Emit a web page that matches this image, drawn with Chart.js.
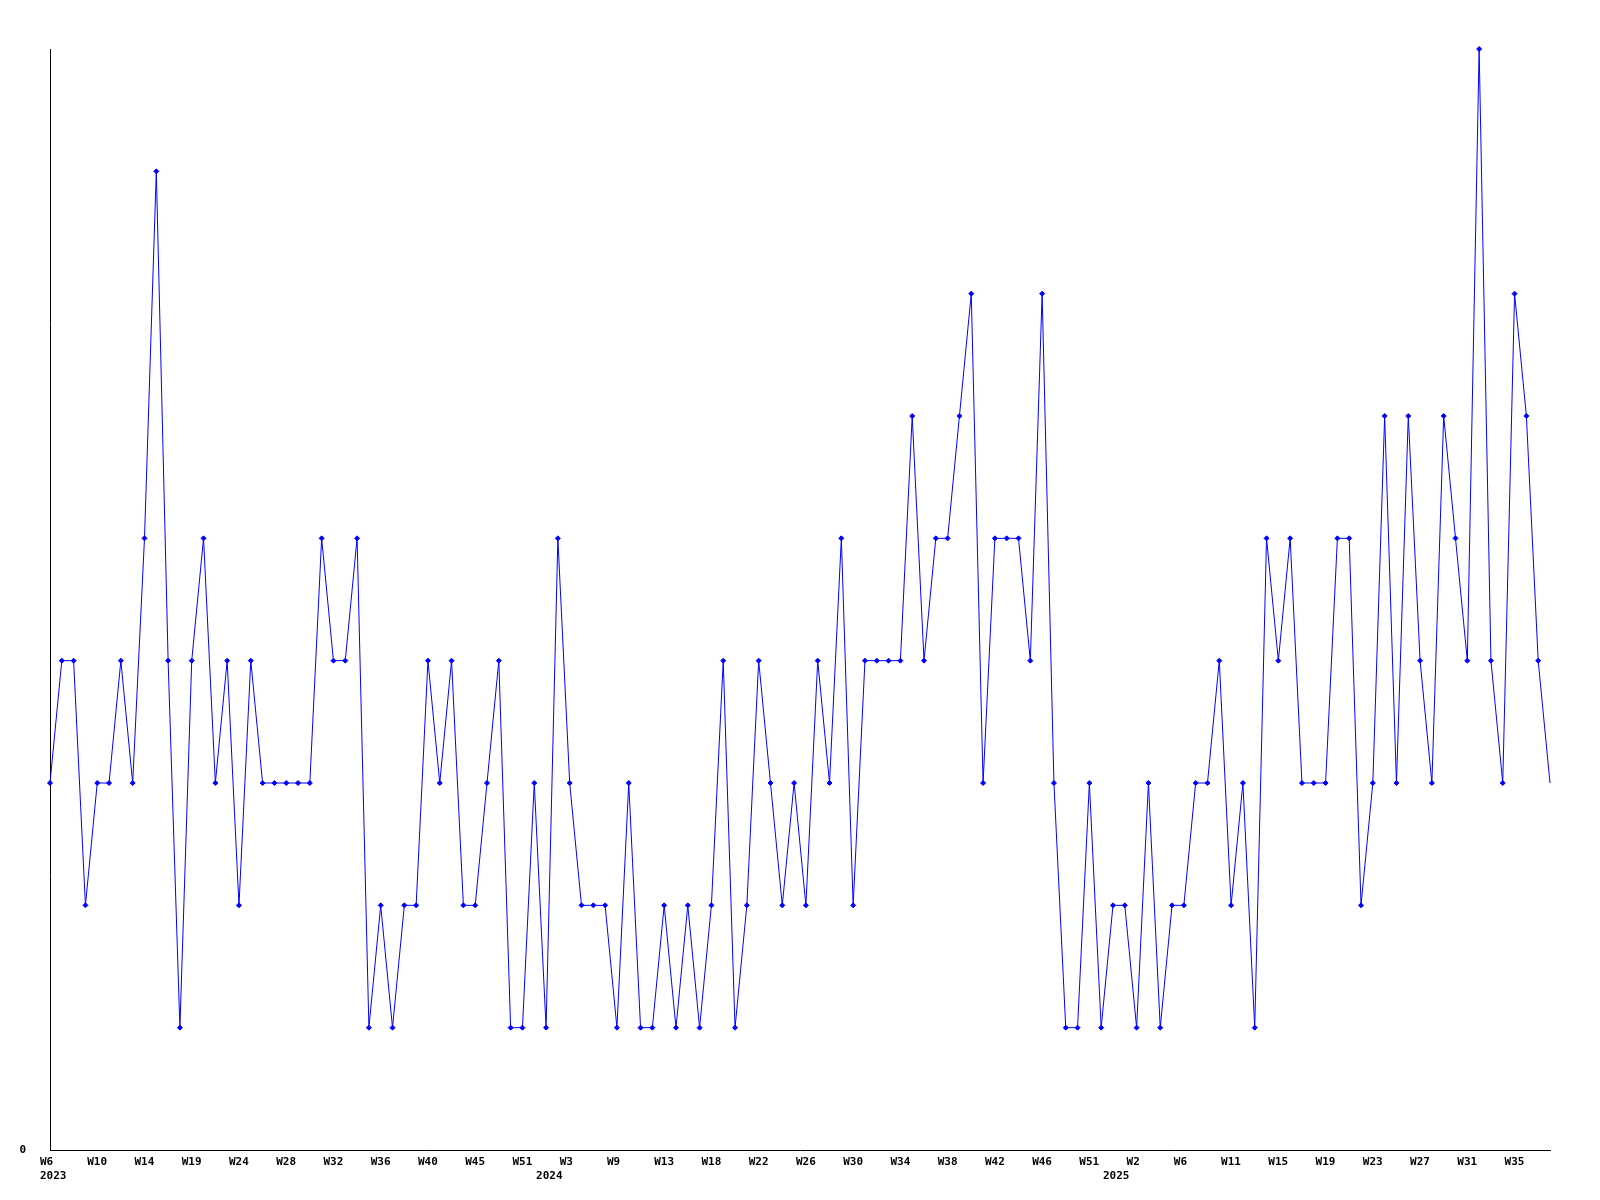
<!DOCTYPE html>
<html>
<head>
<meta charset="utf-8">
<style>
  html, body { margin: 0; padding: 0; background: #fff; }
  #wrap { width: 1600px; height: 1200px; }
</style>
<script src="https://cdn.jsdelivr.net/npm/chart.js@4.4.1/dist/chart.umd.min.js"></script>
</head>
<body>
<div id="wrap"><canvas id="myChart" width="1600" height="1200"></canvas></div>
<script>
// week numbers that have a value, per year (some weeks are missing)
const WEEKS_2023 = [6, 7, 8, 9, 10, 11, 12, 13, 14, 15, 16, 18, 19, 20, 21, 23, 24, 25, 26, 27, 28,
  29, 30, 31, 32, 33, 34, 35, 36, 37, 38, 39, 40, 41, 42, 44, 45, 47, 49, 50, 51, 52];
const WEEKS_2024 = [1, 2, 3, 5, 7, 8, 9, 10, 11, 12, 13, 14, 15, 17, 18, 19, 20, 21, 22, 23, 24, 25,
  26, 27, 28, 29, 30, 31, 32, 33, 34, 35, 36, 37, 38, 39, 40, 41, 42, 43, 44, 45, 46, 47, 48, 50, 51, 52];
const WEEKS_2025 = [0, 1, 2, 3, 4, 5, 6, 7, 8, 10, 11, 12, 13, 14, 15, 16, 17, 18, 19, 20, 21, 22,
  23, 24, 25, 26, 27, 28, 29, 30, 31, 32, 33, 34, 35, 36, 37, 38];

const COUNTS_2023 = [3, 4, 4, 2, 3, 3, 4, 3, 5, 8, 4, 1, 4, 5, 3, 4, 2, 4, 3, 3, 3,
  3, 3, 5, 4, 4, 5, 1, 2, 1, 2, 2, 4, 3, 4, 2, 2, 3, 4, 1, 1, 3];
const COUNTS_2024 = [1, 5, 3, 2, 2, 2, 1, 3, 1, 1, 2, 1, 2, 1, 2, 4, 1, 2, 4, 3, 2, 3, 2, 4,
  3, 5, 2, 4, 4, 4, 4, 6, 4, 5, 5, 6, 7, 3, 5, 5, 5, 4, 7, 3, 1, 1, 3, 1];
const COUNTS_2025 = [2, 2, 1, 3, 1, 2, 2, 3, 3, 4, 2, 3, 1, 5, 4, 5, 3, 3, 3, 5, 5, 2, 3, 6, 3,
  6, 4, 3, 6, 5, 4, 9, 4, 3, 7, 6, 4, 3];

const Y_MAX = 9;

const labels = [];
const yearAt = {};
[[2023, WEEKS_2023], [2024, WEEKS_2024], [2025, WEEKS_2025]].forEach(([year, weeks]) => {
  yearAt[labels.length] = String(year);
  weeks.forEach((w) => labels.push(`W${w}`));
});
const counts = COUNTS_2023.concat(COUNTS_2024, COUNTS_2025);

const FONT = { family: 'DejaVu Sans Mono', size: 11, weight: 'bold', lineHeight: '14px' };

const ctx = document.getElementById('myChart');

const myChart = new Chart(ctx, {
  type: 'line',
  data: {
    labels,
    datasets: [{
      data: counts,
      borderColor: '#0000FF',
      backgroundColor: '#0000FF',
      borderWidth: 1,
      tension: 0,
      pointStyle: 'rectRot',
      pointRadius: (c) => (c.dataIndex === counts.length - 1 ? 0 : 2.5),
      pointBorderWidth: 1,
      clip: false,
    }],
  },
  options: {
    responsive: false,
    animation: false,
    devicePixelRatio: 1,
    layout: {
      padding: { top: 49, right: 50, left: 0, bottom: 0 },
    },
    plugins: {
      legend: { display: false },
      tooltip: { enabled: false },
    },
    scales: {
      x: {
        type: 'category',
        offset: false,
        grid: { display: false, drawTicks: false },
        border: { display: true, color: '#000', width: 1 },
        afterFit: (scale) => { scale.height = 50; },
        ticks: {
          autoSkip: false,
          minRotation: 0,
          maxRotation: 0,
          align: 'start',
          labelOffset: -10,
          padding: 5,
          color: '#000',
          font: FONT,
          callback: (value, index) => {
            const week = index % 4 === 0 ? labels[index] : '';
            if (yearAt[index]) return [week, yearAt[index]];
            return week || null;
          },
        },
      },
      y: {
        min: 0,
        max: Y_MAX,
        grid: { display: false, drawTicks: false },
        border: { display: true, color: '#000', width: 1 },
        afterFit: (scale) => { scale.width = 50; },
        afterBuildTicks: (scale) => { scale.ticks = [{ value: 0 }]; },
        ticks: {
          padding: 24,
          color: '#000',
          font: FONT,
        },
      },
    },
  },
});
</script>
</body>
</html>
